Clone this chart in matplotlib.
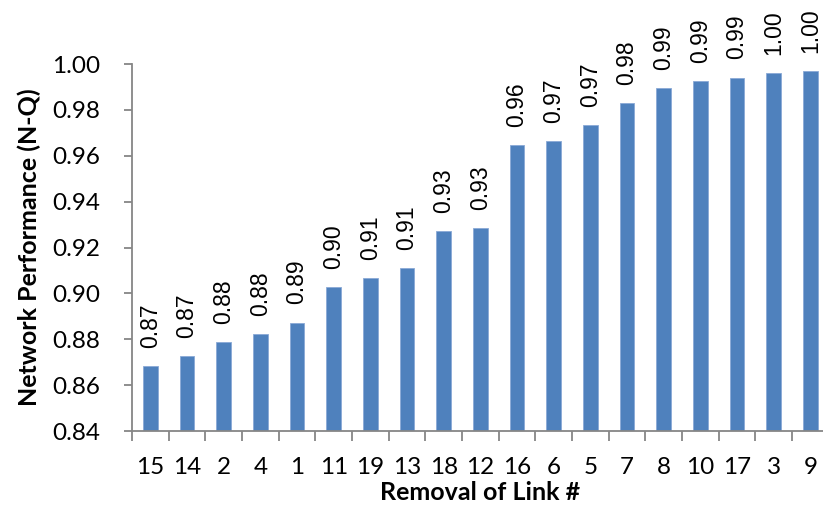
import matplotlib
matplotlib.use("Agg")
import matplotlib.pyplot as plt
from matplotlib.ticker import FixedLocator, FixedFormatter, NullFormatter
import numpy as np

# Links in order of removal and resulting network performance
links = ["15", "14", "2", "4", "1", "11", "19", "13", "18", "12",
         "16", "6", "5", "7", "8", "10", "17", "3", "9"]
performance = [0.8684, 0.8726, 0.8786, 0.8821, 0.8873, 0.9028, 0.9067, 0.9110,
               0.9270, 0.9285, 0.9646, 0.9666, 0.9732, 0.9831, 0.9897, 0.9927,
               0.9941, 0.9962, 0.9971]
y_ticks = [0.84, 0.86, 0.88, 0.90, 0.92, 0.94, 0.96, 0.98, 1.00]

W, H = 823, 508
fig = plt.figure(figsize=(W / 100, H / 100), dpi=100)
ax = fig.add_axes([132 / W, 77 / H, 696.7 / W, 367 / H])

x = np.arange(len(links))
bars = ax.bar(x, performance, width=0.4, color="#4F81BD",
              edgecolor="#8AA9D6", linewidth=0.6, zorder=2)

ax.set_xlim(-0.5, len(links) - 0.5)
ax.set_ylim(0.84, 1.00)

grey = "#868686"
for side in ("top", "right"):
    ax.spines[side].set_visible(False)
for side in ("left", "bottom"):
    ax.spines[side].set_color(grey)
    ax.spines[side].set_linewidth(1.3)

# x: tick marks on category boundaries, labels at category centres
ax.xaxis.set_major_locator(FixedLocator(np.arange(-0.5, len(links), 1.0)))
ax.xaxis.set_major_formatter(NullFormatter())
ax.xaxis.set_minor_locator(FixedLocator(x))
ax.xaxis.set_minor_formatter(FixedFormatter(links))
ax.tick_params(axis="x", which="major", direction="out", length=7,
               width=1.3, color=grey)
ax.tick_params(axis="x", which="minor", length=0, pad=19)

ax.set_yticks(y_ticks)
ax.set_yticklabels([f"{v:.2f}" for v in y_ticks])
ax.tick_params(axis="y", direction="out", length=6, width=1.3, color=grey,
               pad=17)

for lab in ax.get_xticklabels(minor=True) + ax.get_yticklabels():
    lab.set_fontfamily("Lato")
    lab.set_fontsize(17.5)
    lab.set_color("#000000")

# rotated value labels above each bar
for xi, v in zip(x, performance):
    ax.annotate(f"{v:.2f}", xy=(xi, v), xytext=(0, 13),
                textcoords="offset points", rotation=90,
                ha="center", va="bottom", fontsize=16.5,
                family="Liberation Sans", annotation_clip=False)

ax.set_xlabel("Removal of Link #", family="Lato", fontweight="bold",
              fontsize=18, labelpad=2)
ax.set_ylabel("Network Performance (N-Q)", family="Lato", fontweight="bold",
              fontsize=18, labelpad=8)

fig.savefig("out.png", dpi=100)
